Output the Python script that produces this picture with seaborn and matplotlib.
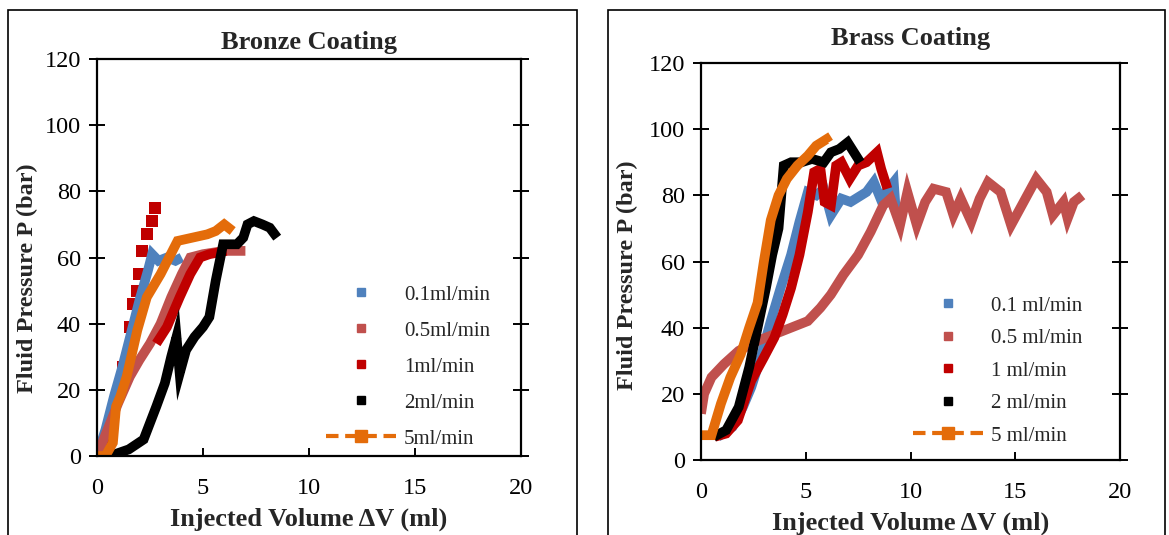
import matplotlib
matplotlib.use("Agg")
import matplotlib.pyplot as plt
import seaborn as sns
from matplotlib.lines import Line2D
from matplotlib.patches import Rectangle

# ---------------- data ----------------
rate_labels_bronze = ["0.1ml/min", "0.5ml/min", "1ml/min", "2ml/min", "5ml/min"]
rate_labels_brass = ["0.1 ml/min", "0.5 ml/min", "1 ml/min", "2 ml/min", "5 ml/min"]
colors = ["#4F81BD", "#C0504D", "#C00000", "#000000", "#E46C0A"]

# Bronze coating
bz01_x = [0, 0.4, 0.8, 1.2, 1.6, 2.0, 2.4, 2.6, 2.9, 3.3, 3.7, 4.0]
bz01_y = [0, 8, 18, 27, 37, 47, 56, 61, 59, 60, 59, 60]
bz05_x = [0, 0.5, 1.0, 1.55, 2.0, 2.5, 3.0, 3.5, 4.0, 4.4, 5.0, 6.0, 7.0]
bz05_y = [0, 8, 16, 24, 29, 34, 40, 48, 55, 60, 61, 62, 62]
bz1_jump_x = [0, 0.3, 0.6, 0.95, 1.23, 1.56, 1.7, 1.88, 2.0, 2.1, 2.35, 2.6, 2.74]
bz1_jump_y = [0, 4, 10, 18, 27, 39, 46, 50, 55, 62, 67, 71, 75]
bz1_x = [2.8, 3.3, 3.9, 4.4, 4.86, 5.3, 6.1]
bz1_y = [34, 39, 48, 55, 60, 61, 62]
bz2_x = [0.6, 1.5, 2.2, 2.8, 3.2, 3.5, 3.75, 3.9, 4.2, 4.6, 5.0, 5.3, 5.6, 5.95, 6.3, 6.6, 6.9, 7.1, 7.4, 7.8, 8.15, 8.5]
bz2_y = [0, 2, 5, 15, 22, 30, 36, 25, 32, 36, 39, 42, 53, 64, 64, 64, 66, 70, 71, 70, 69, 66]
bz5_x = [0, 0.4, 0.75, 0.9, 1.1, 1.4, 1.9, 2.35, 3.0, 3.4, 3.8, 4.5, 5.2, 5.6, 6.0, 6.4]
bz5_y = [0, 0, 4, 15, 18, 24, 38, 48, 55, 60, 65, 66, 67, 68, 70, 68]

# Brass coating
br01_x = [0.8, 1.5, 2.0, 2.4, 2.9, 3.33, 3.8, 4.3, 4.7, 5.1, 5.5, 5.86, 6.2, 6.7, 7.14, 7.9, 8.25, 8.57, 9.2, 9.3]
br01_y = [7, 10, 16, 22, 32, 42, 52, 62, 72, 81, 80, 82, 74, 79, 78, 81, 84, 79, 84, 75]
br05_x = [0, 0.15, 0.5, 1.1, 1.8, 2.7, 3.5, 4.3, 5.1, 5.7, 6.2, 6.8, 7.5, 8.1, 8.7, 9.05, 9.5, 9.85,
          10.3, 10.7, 11.1, 11.7, 12.05, 12.4, 12.9, 13.3, 13.7, 14.3, 14.8, 15.4, 16.0, 16.5, 16.8,
          17.3, 17.5, 17.8, 18.2]
br05_y = [14, 20, 25, 29, 33, 36, 38, 40, 42, 46, 50, 56, 62, 69, 77, 79, 71, 81,
          71, 78, 82, 81, 74, 79, 72, 79, 84, 81, 71, 78, 85, 81, 74,
          78, 73, 78, 80]
br1_x = [0.65, 1.2, 1.76, 2.4, 3.0, 3.5, 3.9, 4.3, 4.7, 5.1, 5.4, 5.7, 5.9, 6.2, 6.45, 6.7, 7.1, 7.5, 7.9, 8.4, 8.6, 8.9]
br1_y = [7, 8, 12, 24, 31, 37, 44, 52, 62, 75, 87, 88, 78, 77, 89, 90, 85, 89, 90, 93, 88, 82]
br2_x = [0.6, 1.2, 1.8, 2.3, 2.7, 3.1, 3.4, 3.7, 3.95, 4.3, 4.8, 5.3, 5.86, 6.2, 6.6, 7.0, 7.3, 7.6]
br2_y = [7, 9, 16, 28, 40, 52, 62, 70, 89, 90, 90, 91, 90, 93, 94, 96, 93, 90]
br5_x = [0, 0.5, 0.95, 1.4, 1.9, 2.3, 2.7, 3.0, 3.33, 3.7, 4.1, 4.6, 5.1, 5.5, 6.0, 6.1]
br5_y = [7.5, 7.5, 17, 25, 32, 40, 47.5, 60, 72.5, 80, 85, 89, 92, 95, 97, 96]

x_ticks = [0, 5, 10, 15, 20]
y_ticks = [0, 20, 40, 60, 80, 100, 120]

# ---------------- style ----------------
sns.set_theme(style="white")
plt.rcParams["font.family"] = ["Liberation Serif", "DejaVu Serif"]

fig = plt.figure(figsize=(11.69, 5.35), dpi=100)

# chart frames
fig.add_artist(Rectangle((8 / 1169, -0.05), (577 - 8) / 1169, 1.05 - 10 / 535,
                         transform=fig.transFigure, fill=False, lw=1.2, ec="black"))
fig.add_artist(Rectangle((608 / 1169, -0.05), (1165 - 608) / 1169, 1.05 - 10 / 535,
                         transform=fig.transFigure, fill=False, lw=1.2, ec="black"))

ax1 = fig.add_axes([97 / 1169, 1 - 456 / 535, (521 - 97) / 1169, (456 - 59) / 535])
ax2 = fig.add_axes([701 / 1169, 1 - 460 / 535, (1120 - 701) / 1169, (460 - 63) / 535])

LW = 7.0


def draw(ax, x, y, c):
    sns.lineplot(x=x, y=y, ax=ax, color=c, lw=LW, sort=False, estimator=None,
                 legend=False, solid_joinstyle="miter", solid_capstyle="butt")


# Bronze
draw(ax1, bz01_x, bz01_y, colors[0])
draw(ax1, bz05_x, bz05_y, colors[1])
sns.scatterplot(x=bz1_jump_x, y=bz1_jump_y, ax=ax1, color=colors[2], marker="s", s=70,
                linewidth=0, legend=False)
draw(ax1, bz1_x, bz1_y, colors[2])
draw(ax1, bz2_x, bz2_y, colors[3])
draw(ax1, bz5_x, bz5_y, colors[4])

# Brass
draw(ax2, br01_x, br01_y, colors[0])
draw(ax2, br05_x, br05_y, colors[1])
draw(ax2, br1_x, br1_y, colors[2])
draw(ax2, br2_x, br2_y, colors[3])
draw(ax2, br5_x, br5_y, colors[4])

FS_TICK = 17.5
FS_LAB = 19
setup = [
    (ax1, "Bronze Coating", 7.5, (-0.139, 0.448)),
    (ax2, "Brass Coating", 13, (-0.150, 0.466)),
]
for ax, title, tpad, ylc in setup:
    ax.set_xlim(0, 20)
    ax.set_ylim(0, 120)
    ax.set_xticks(x_ticks)
    ax.set_yticks(y_ticks)
    ax.set_xticklabels([str(v) for v in x_ticks], fontsize=FS_TICK)
    ax.set_yticklabels([str(v) for v in y_ticks], fontsize=FS_TICK)
    for s in ax.spines.values():
        s.set_visible(True)
        s.set_color("black")
        s.set_linewidth(1.6)
    ax.tick_params(axis="y", which="major", left=True, right=True, direction="inout",
                   length=11, width=1.4, pad=6, colors="black")
    ax.tick_params(axis="x", which="major", bottom=True, top=False, direction="in",
                   length=5.5, width=1.4, pad=16, colors="black")
    ax.set_xlabel("Injected Volume \u0394V (ml)", fontsize=FS_LAB, fontweight="bold", labelpad=6)
    ax.set_ylabel("Fluid Pressure P (bar)", fontsize=17.5, fontweight="bold")
    ax.yaxis.set_label_coords(*ylc)
    ax.set_title(title, fontsize=19, fontweight="bold", pad=tpad)
    ax.grid(False)
    ax.set_facecolor("none")


def legend_handles():
    hs = []
    for c in colors[:4]:
        hs.append(Line2D([], [], ls="none", marker="s", ms=6, color=c, mec=c))
    hs.append(Line2D([], [], ls=(0, (3, 1.6)), lw=3, marker="s", ms=8.5, color=colors[4],
                     mec=colors[4]))
    return hs


ax1.legend(legend_handles(), rate_labels_bronze, loc="upper left",
           bbox_to_anchor=(326 / 1169, 1 - 285 / 535), bbox_transform=fig.transFigure,
           frameon=False, fontsize=15, handlelength=3.4, handletextpad=0.35,
           labelspacing=0.79, borderpad=0, borderaxespad=0)
ax2.legend(legend_handles(), rate_labels_brass, loc="upper left",
           bbox_to_anchor=(913 / 1169, 1 - 296 / 535), bbox_transform=fig.transFigure,
           frameon=False, fontsize=15, handlelength=3.4, handletextpad=0.35,
           labelspacing=0.62, borderpad=0, borderaxespad=0)

fig.savefig("out.png", dpi=100)
